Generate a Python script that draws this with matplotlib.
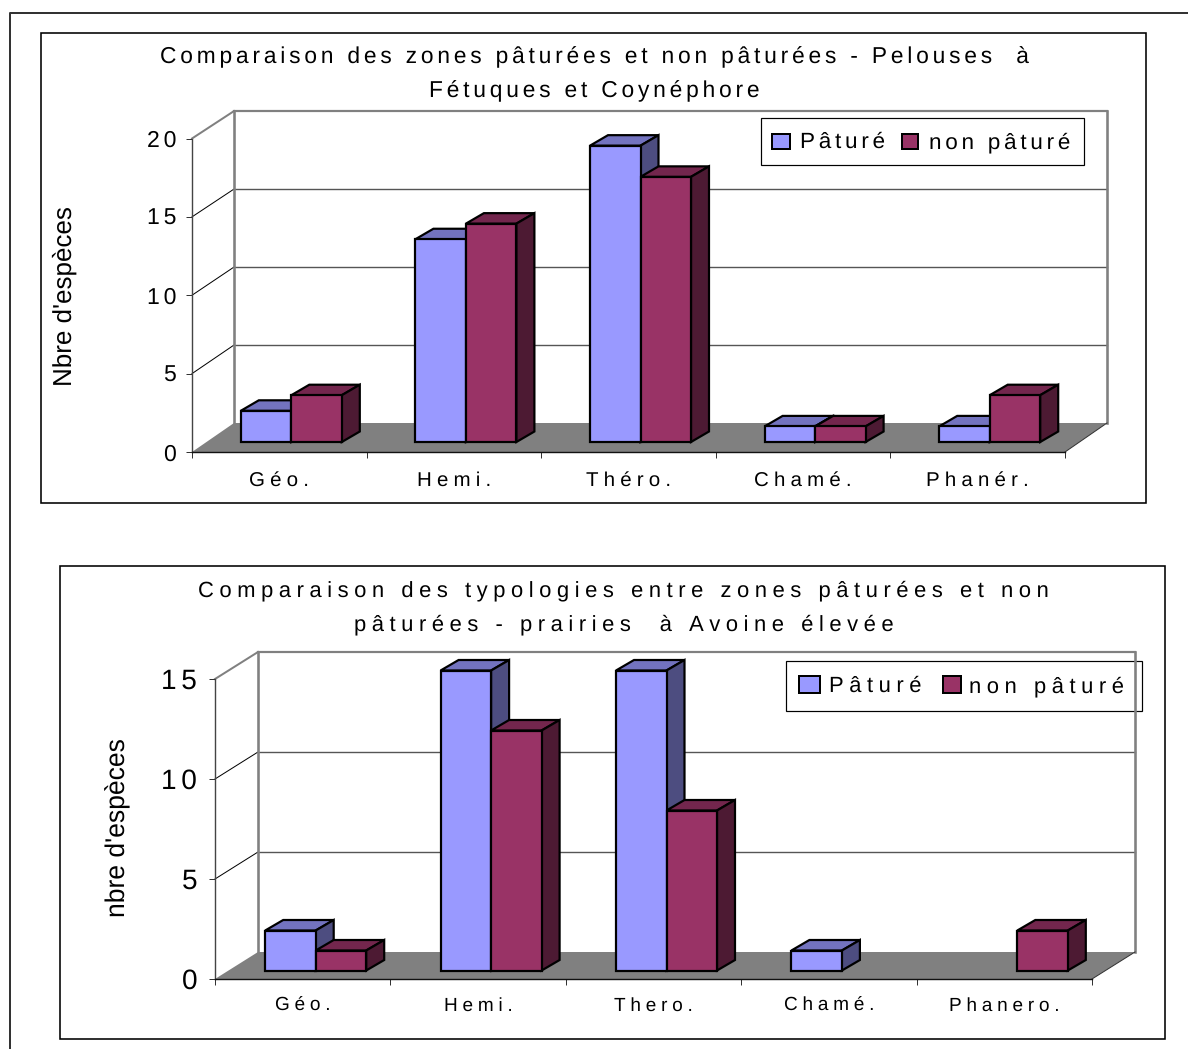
import matplotlib
matplotlib.use('Agg')
import matplotlib.pyplot as plt
from matplotlib.patches import Polygon, Rectangle

plt.rcParams['font.family'] = ['Liberation Sans', 'DejaVu Sans']
plt.rcParams['text.hinting'] = 'none'

W, H = 1188, 1049
DPI = 100

# chart 1 data
categories_1 = ['Géo.', 'Hemi.', 'Théro.', 'Chamé.', 'Phanér.']
pature_1 = [2, 13, 19, 1, 1]
non_pature_1 = [3, 14, 17, 1, 3]
yticks_1 = [0, 5, 10, 15, 20]
title_1 = ['Comparaison des zones pâturées et non pâturées - Pelouses  à', 'Fétuques et Coynéphore']
ylabel_1 = "Nbre d'espèces"

# chart 2 data
categories_2 = ['Géo.', 'Hemi.', 'Thero.', 'Chamé.', 'Phanero.']
pature_2 = [2, 15, 15, 1, 0]
non_pature_2 = [1, 12, 8, 0, 2]
yticks_2 = [0, 5, 10, 15]
title_2 = ['Comparaison des typologies entre zones pâturées et non', 'pâturées - prairies  à Avoine élevée']
ylabel_2 = "nbre d'espèces"

legend_labels = ['Pâturé', 'non pâturé']

BLUE = ('#9999FF', '#7373BF', '#4D4D80')
RED = ('#993366', '#73264D', '#4D1A33')
GREY = '#808080'


def spaced(s, n=1):
    # the reference has wide letter spacing, hair spaces get close to it
    return ('\u200a' * n).join(s)


def pt(px):
    return px * 72 / DPI


fig = plt.figure(figsize=(W / DPI, H / DPI), dpi=DPI)

# page layer in pixels, for frames, titles and legends
page = fig.add_axes([0, 0, 1, 1])
page.set_xlim(0, W)
page.set_ylim(H, 0)
page.axis('off')

page.plot([9.5, 9.5, 1188], [1049, 12.5, 12.5], color='#333333', lw=pt(2))


def draw_chart(cats, v1, v2, yticks, ymax, box, x0, x1, y0, y1, wall, bar_base, bar_shift, unit_scale,
               title, title_cx, title_y, title_fs, title_n, ylabel, ylabel_pos, ylabel_fs,
               tick_fs, tick_n, tick_pad, cat_fs, cat_y,
               legend_box, swatches, leg_text, leg_fs, leg_n):
    page.add_patch(Rectangle((box[0], box[1]), box[2] - box[0], box[3] - box[1],
                             fc='white', ec='black', lw=pt(1.6), zorder=1))
    ax = fig.add_axes([x0 / W, 1 - y0 / H, (x1 - x0) / W, (y0 - y1) / H], zorder=2)
    ax.patch.set_alpha(0)
    n = len(cats)
    ax.set_xlim(0, n)
    ax.set_ylim(0, ymax)
    cat_px = (x1 - x0) / n
    unit_px = (y0 - y1) / ymax
    wx, wy = wall[0] / cat_px, wall[1] / unit_px
    wall_top = ymax * unit_scale + wy

    # floor, walls and grid
    ax.add_patch(Polygon([(0, 0), (n, 0), (n + wx, wy), (wx, wy)], fc=GREY, ec='none', clip_on=False, zorder=1))
    for v in yticks[1:]:
        top = v == yticks[-1]
        yb = v * unit_scale + wy
        ax.plot([0, wx], [v, yb], color=GREY if top else '#000000', lw=pt(2 if top else 1), clip_on=False, zorder=1)
        ax.plot([wx, n + wx], [yb, yb], color=GREY if top else '#555555', lw=pt(2.2 if top else 1.4),
                clip_on=False, zorder=1)
    for xw in (wx, n + wx):
        ax.plot([xw, xw], [wy, wall_top], color=GREY, lw=pt(2.6), clip_on=False, zorder=1)
    ax.plot([n, n + wx], [0, wy], color='#333333', lw=pt(1), clip_on=False, zorder=1)

    # 3D bars
    bw = 50.5 / cat_px
    dx, dy = 18 / cat_px, 10.5 / unit_px
    base = bar_base / unit_px
    shift = bar_shift / cat_px
    for i in range(n):
        c = i + 0.5 + shift
        for left, v, cols in ((c - bw, v1[i], BLUE), (c, v2[i], RED)):
            if v == 0:
                continue
            t = base + v * unit_scale
            r = left + bw
            ax.add_patch(Polygon([(left, t), (r, t), (r + dx, t + dy), (left + dx, t + dy)],
                                 fc=cols[1], ec='black', lw=pt(2.2), clip_on=False, zorder=3))
            ax.add_patch(Polygon([(r, base), (r + dx, base + dy), (r + dx, t + dy), (r, t)],
                                 fc=cols[2], ec='black', lw=pt(2.2), clip_on=False, zorder=3))
            ax.add_patch(Rectangle((left, base), bw, t - base, fc=cols[0], ec='black', lw=pt(2.2),
                                   clip_on=False, zorder=4))

    # axes
    for s in ('top', 'right'):
        ax.spines[s].set_visible(False)
    ax.spines['left'].set_color('#444444')
    ax.spines['left'].set_linewidth(pt(1.4))
    ax.spines['bottom'].set_color('#111111')
    ax.spines['bottom'].set_linewidth(pt(1.4))
    ax.set_yticks(yticks)
    ax.set_yticklabels([spaced(str(v), tick_n) for v in yticks], fontsize=pt(tick_fs))
    ax.set_xticks(range(n + 1))
    ax.set_xticklabels([])
    ax.set_xticks([i + 0.5 for i in range(n)], minor=True)
    ax.set_xticklabels([spaced(c, 3) for c in cats], minor=True, fontsize=pt(cat_fs))
    ax.tick_params(axis='x', which='major', length=pt(6), width=pt(1), color='#333333')
    ax.tick_params(axis='x', which='minor', length=0, pad=pt(cat_y - y0 - 8))
    ax.tick_params(axis='y', length=pt(6), width=pt(1), color='#333333', pad=pt(tick_pad))

    # title, y label
    for line, ty in zip(title, title_y):
        page.text(title_cx, ty, spaced(line, title_n), ha='center', va='baseline', fontsize=pt(title_fs), zorder=5)
    page.text(ylabel_pos[0], ylabel_pos[1], ylabel, rotation=90, ha='center', va='center',
              fontsize=pt(ylabel_fs), zorder=5)

    # legend
    page.add_patch(Rectangle((legend_box[0], legend_box[1]), legend_box[2] - legend_box[0],
                             legend_box[3] - legend_box[1], fc='white', ec='black', lw=pt(1.2), zorder=6))
    for (sx0, sy0, sx1, sy1), cols in zip(swatches, (BLUE, RED)):
        page.add_patch(Rectangle((sx0, sy0), sx1 - sx0, sy1 - sy0, fc=cols[0], ec='black', lw=pt(2), zorder=7))
    for (tx, ty), lab in zip(leg_text, legend_labels):
        page.text(tx, ty, spaced(lab, leg_n), ha='left', va='baseline', fontsize=pt(leg_fs), zorder=7)
    return ax


draw_chart(categories_1, pature_1, non_pature_1, yticks_1, 20,
           box=(41, 33, 1146, 503), x0=192, x1=1065, y0=452, y1=138.5, wall=(42, 29), bar_base=10,
           bar_shift=12, unit_scale=0.995,
           title=title_1, title_cx=594.5, title_y=(63, 97), title_fs=22.7, title_n=2,
           ylabel=ylabel_1, ylabel_pos=(65, 296), ylabel_fs=26,
           tick_fs=23, tick_n=2, tick_pad=10, cat_fs=20.5, cat_y=479,
           legend_box=(760.5, 118, 1084, 165), swatches=[(772, 134, 790, 149), (902, 134, 918, 149)],
           leg_text=[(800, 148), (929, 148)], leg_fs=22.5, leg_n=2)

draw_chart(categories_2, pature_2, non_pature_2, yticks_2, 15,
           box=(60, 566, 1165, 1039), x0=215, x1=1092, y0=979, y1=679, wall=(43, 27), bar_base=8.5,
           bar_shift=13, unit_scale=1.0,
           title=title_2, title_cx=623.5, title_y=(596, 630), title_fs=22, title_n=3,
           ylabel=ylabel_2, ylabel_pos=(118, 828), ylabel_fs=26.5,
           tick_fs=28, tick_n=2, tick_pad=12, cat_fs=19, cat_y=1005,
           legend_box=(786, 661, 1142, 711), swatches=[(799, 676, 820, 693), (943, 676, 961, 693)],
           leg_text=[(829, 692), (969, 692)], leg_fs=22, leg_n=3)

fig.savefig('out.png', dpi=DPI)
